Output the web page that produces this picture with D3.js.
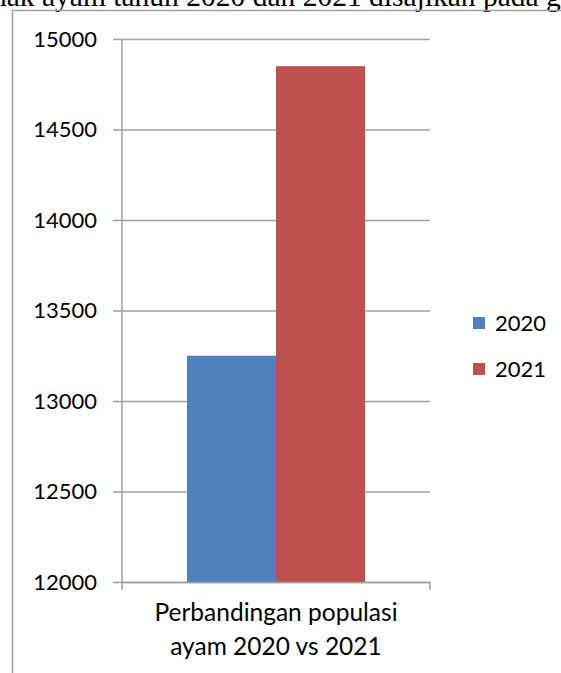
<!DOCTYPE html>
<html>
<head>
<meta charset="utf-8">
<script src="https://cdn.jsdelivr.net/npm/d3@7"></script>
<style>
  html, body { margin: 0; padding: 0; background: #fff; overflow: hidden; }
  svg { display: block; }
  .tick text { font-family: Lato, "Open Sans", sans-serif; font-size: 22px; fill: #000; }
</style>
</head>
<body>
<div id="chart"></div>
<script>
const categories = ["Perbandingan populasi ayam 2020 vs 2021"];
const categoryLines = ["Perbandingan populasi", "ayam 2020 vs 2021"];
const series = ["2020", "2021"];
const values2020 = [13250];
const values2021 = [14850];
const yTicks = [12000, 12500, 13000, 13500, 14000, 14500, 15000];
const colors = ["#4f81bd", "#c0504d"];

const width = 561;
const height = 673;
const gridColor = "#a0a0a0";

const svg = d3.select("#chart")
    .append("svg")
    .attr("width", width)
    .attr("height", height);

// clipped line of the surrounding document text
const docText = svg.append("text")
    .attr("y", 6)
    .style("font-family", "'Liberation Serif', 'Times New Roman', serif")
    .style("font-size", "28px");
const pre = docText.append("tspan").text("ternak ");
const mid = docText.append("tspan").text("ayam tahun 2020 dan 2021 disajikan pada g");
docText.append("tspan").text("rafik");
// size it so "ayam ... pada g" runs from x = 42 to the right edge
const fs = 28 * (width - 42) / mid.node().getComputedTextLength();
docText.style("font-size", fs + "px");
docText.attr("x", 42 - pre.node().getComputedTextLength());

// chart frame
svg.append("rect")
    .attr("x", 12.5)
    .attr("y", 10.5)
    .attr("width", width + 20)
    .attr("height", height + 20)
    .attr("fill", "none")
    .attr("stroke", gridColor)
    .attr("stroke-width", 1.5);

const plot = { left: 122, right: 430, top: 39, bottom: 582 };

const y = d3.scaleLinear()
    .domain([12000, 15000])
    .range([plot.bottom, plot.top]);

const x = d3.scaleBand()
    .domain(categories)
    .range([plot.left, plot.right])
    .paddingInner(0)
    .paddingOuter(0.365);

const xSub = d3.scaleBand()
    .domain(series)
    .range([0, x.bandwidth()]);

// gridlines
svg.append("g")
    .attr("transform", `translate(${plot.left},0)`)
    .call(d3.axisRight(y).tickValues(yTicks).tickSize(plot.right - plot.left).tickFormat(""))
    .call((g) => g.select(".domain").remove())
    .call((g) => g.selectAll("line").attr("stroke", gridColor).attr("stroke-width", 1.5));

// bars
const data = categories.map((c, i) => ({
    category: c,
    values: [
        { key: "2020", value: values2020[i] },
        { key: "2021", value: values2021[i] },
    ],
}));

svg.append("g")
    .selectAll("g")
    .data(data)
    .enter()
    .append("g")
    .attr("transform", (d) => `translate(${x(d.category)},0)`)
    .selectAll("rect")
    .data((d) => d.values)
    .enter()
    .append("rect")
    .attr("x", (d) => xSub(d.key))
    .attr("width", xSub.bandwidth())
    .attr("y", (d) => y(d.value))
    .attr("height", (d) => y(12000) - y(d.value))
    .attr("fill", (d, i) => colors[i]);

// y axis with tick labels
svg.append("g")
    .attr("transform", `translate(${plot.left},0)`)
    .call(d3.axisLeft(y).tickValues(yTicks).tickSizeInner(9).tickSizeOuter(0).tickPadding(16).tickFormat(d3.format("d")))
    .call((g) => g.select(".domain").remove())
    .call((g) => g.selectAll("line").attr("stroke", gridColor).attr("stroke-width", 1.5));

svg.append("line")
    .attr("x1", plot.left).attr("x2", plot.left)
    .attr("y1", plot.top).attr("y2", plot.bottom + 8)
    .attr("stroke", gridColor).attr("stroke-width", 1.5);

// x axis
svg.append("g")
    .attr("transform", `translate(0,${plot.bottom})`)
    .call(d3.axisBottom(x).tickSize(0).tickFormat(""))
    .call((g) => g.select(".domain").attr("stroke", gridColor).attr("stroke-width", 1.5));

svg.append("line")
    .attr("x1", plot.right).attr("x2", plot.right)
    .attr("y1", plot.bottom).attr("y2", plot.bottom + 8)
    .attr("stroke", gridColor).attr("stroke-width", 1.5);

const catLabel = svg.append("text")
    .attr("text-anchor", "middle")
    .style("font-family", "Lato, 'Open Sans', sans-serif")
    .style("font-size", "24.5px");
categoryLines.forEach((line, i) => {
    catLabel.append("tspan")
        .attr("x", x(categories[0]) + x.bandwidth() / 2)
        .attr("y", 621 + i * 34)
        .text(line);
});

// legend
const legend = svg.append("g")
    .selectAll("g")
    .data(series)
    .enter()
    .append("g")
    .attr("transform", (d, i) => `translate(473,${323 + i * 46})`);

legend.append("rect")
    .attr("x", 0)
    .attr("y", -6)
    .attr("width", 12)
    .attr("height", 12)
    .attr("fill", (d, i) => colors[i]);

legend.append("text")
    .attr("x", 22)
    .attr("dy", "0.35em")
    .style("font-family", "Lato, 'Open Sans', sans-serif")
    .style("font-size", "22px")
    .text((d) => d);
</script>
</body>
</html>
